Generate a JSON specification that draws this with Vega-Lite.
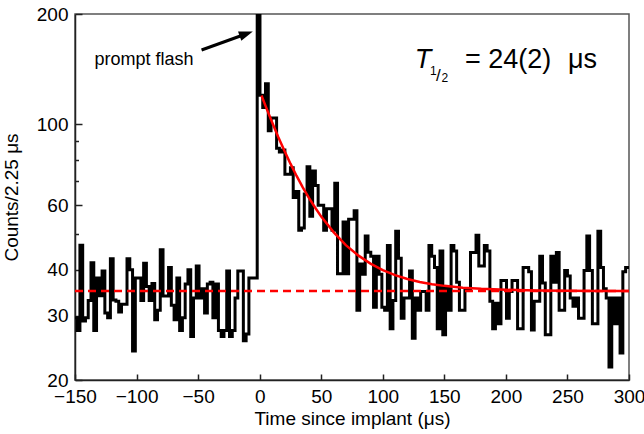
{
  "$schema": "https://vega.github.io/schema/vega-lite/v6.json",
  "width": 554,
  "height": 366,
  "autosize": {"type": "none"},
  "padding": {"left": 75, "top": 14, "right": 15, "bottom": 54},
  "background": "white",
  "config": {
    "view": {"stroke": "#555", "strokeWidth": 1.5},
    "font": "Liberation Sans",
    "axis": {
      "labelFont": "Liberation Sans",
      "titleFont": "Liberation Sans",
      "labelColor": "#000",
      "titleColor": "#000",
      "domainColor": "#222",
      "domainWidth": 1.5,
      "tickColor": "#222",
      "tickWidth": 1.5,
      "labelFontSize": 19,
      "titleFontSize": 19,
      "titleFontWeight": "normal",
      "grid": false,
      "labelFlush": false,
      "labelOverlap": false,
      "labelBound": false
    }
  },
  "datasets": {
    "hist": [
      {"t": -150.5, "c": 29.6}, {"t": -148.25, "c": 27.3}, {"t": -146, "c": 46.7}, {"t": -143.75, "c": 29}, {"t": -141.5, "c": 29.6},
      {"t": -139.25, "c": 33}, {"t": -137, "c": 41.8}, {"t": -134.75, "c": 27.3}, {"t": -132.5, "c": 38}, {"t": -130.25, "c": 34},
      {"t": -128, "c": 39.7}, {"t": -125.75, "c": 30.5}, {"t": -123.5, "c": 29.6}, {"t": -121.25, "c": 42.9}, {"t": -119, "c": 33.1},
      {"t": -116.75, "c": 32.8}, {"t": -114.5, "c": 30.7}, {"t": -112.25, "c": 32.2}, {"t": -110, "c": 32.2}, {"t": -107.75, "c": 42.9},
      {"t": -105.5, "c": 40}, {"t": -103.25, "c": 24}, {"t": -101, "c": 38}, {"t": -98.75, "c": 38}, {"t": -96.5, "c": 33},
      {"t": -94.25, "c": 41.7}, {"t": -92, "c": 36}, {"t": -89.75, "c": 33}, {"t": -87.5, "c": 36.7}, {"t": -85.25, "c": 29.2},
      {"t": -83, "c": 31}, {"t": -80.75, "c": 45.4}, {"t": -78.5, "c": 33.9}, {"t": -76.25, "c": 33.9}, {"t": -74, "c": 40.6},
      {"t": -71.75, "c": 32}, {"t": -69.5, "c": 29.2}, {"t": -67.25, "c": 38}, {"t": -65, "c": 27.3}, {"t": -62.75, "c": 29.6},
      {"t": -60.5, "c": 36.6}, {"t": -58.25, "c": 40}, {"t": -56, "c": 26.3}, {"t": -53.75, "c": 33.5}, {"t": -51.5, "c": 41},
      {"t": -49.25, "c": 33.5}, {"t": -47, "c": 35.5}, {"t": -44.75, "c": 30.5}, {"t": -42.5, "c": 36.6}, {"t": -40.25, "c": 37},
      {"t": -38, "c": 29.6}, {"t": -35.75, "c": 36.6}, {"t": -33.5, "c": 27.3}, {"t": -31.25, "c": 26.3}, {"t": -29, "c": 27.3},
      {"t": -26.75, "c": 39.7}, {"t": -24.5, "c": 26.3}, {"t": -22.25, "c": 27.3}, {"t": -20, "c": 33.5}, {"t": -17.75, "c": 39.7},
      {"t": -15.5, "c": 39.7}, {"t": -13.25, "c": 25.6}, {"t": -11, "c": 26.7}, {"t": -8.75, "c": 38}, {"t": -6.5, "c": 38},
      {"t": -4.25, "c": 38}, {"t": -2, "c": 260},
      {"t": 0.25, "c": 120}, {"t": 2.5, "c": 111}, {"t": 4.75, "c": 129}, {"t": 7, "c": 96}, {"t": 9.25, "c": 104},
      {"t": 11.5, "c": 104}, {"t": 13.75, "c": 86}, {"t": 16, "c": 84}, {"t": 18.25, "c": 85}, {"t": 20.5, "c": 73},
      {"t": 22.75, "c": 73}, {"t": 25, "c": 76}, {"t": 27.25, "c": 63}, {"t": 29.5, "c": 65.5}, {"t": 31.75, "c": 51.3},
      {"t": 34, "c": 52}, {"t": 36.25, "c": 64.5}, {"t": 38.5, "c": 76.5}, {"t": 40.75, "c": 56}, {"t": 43, "c": 74.5},
      {"t": 45.25, "c": 68}, {"t": 47.5, "c": 60}, {"t": 49.75, "c": 60}, {"t": 52, "c": 51.3}, {"t": 54.25, "c": 58.7},
      {"t": 56.5, "c": 58.7}, {"t": 58.75, "c": 51.3}, {"t": 61, "c": 69}, {"t": 63.25, "c": 39}, {"t": 65.5, "c": 39},
      {"t": 67.75, "c": 54}, {"t": 70, "c": 39}, {"t": 72.25, "c": 55}, {"t": 74.5, "c": 55}, {"t": 76.75, "c": 58},
      {"t": 79, "c": 31}, {"t": 81.25, "c": 41.5}, {"t": 83.5, "c": 38.9}, {"t": 85.75, "c": 49.5}, {"t": 88, "c": 44.7},
      {"t": 90.25, "c": 43.6}, {"t": 92.5, "c": 31.6}, {"t": 94.75, "c": 43.6}, {"t": 97, "c": 38.9}, {"t": 99.25, "c": 31.6},
      {"t": 101.5, "c": 31}, {"t": 103.75, "c": 46.6}, {"t": 106, "c": 27.6}, {"t": 108.25, "c": 33}, {"t": 110.5, "c": 51},
      {"t": 112.75, "c": 43}, {"t": 115, "c": 29.5}, {"t": 117.25, "c": 33.5}, {"t": 119.5, "c": 33.5}, {"t": 121.75, "c": 39.7},
      {"t": 124, "c": 26}, {"t": 126.25, "c": 33.5}, {"t": 128.5, "c": 31}, {"t": 130.75, "c": 34.9}, {"t": 133, "c": 34.9},
      {"t": 135.25, "c": 31}, {"t": 137.5, "c": 46.6}, {"t": 139.75, "c": 43.6}, {"t": 142, "c": 40.6}, {"t": 144.25, "c": 27.6},
      {"t": 146.5, "c": 45}, {"t": 148.75, "c": 26.6}, {"t": 151, "c": 36}, {"t": 153.25, "c": 31}, {"t": 155.5, "c": 46.6},
      {"t": 157.75, "c": 45}, {"t": 160, "c": 37}, {"t": 162.25, "c": 31}, {"t": 164.5, "c": 31}, {"t": 166.75, "c": 35.5},
      {"t": 169, "c": 35.5}, {"t": 171.25, "c": 44.6}, {"t": 173.5, "c": 44.6}, {"t": 175.75, "c": 49.7}, {"t": 178, "c": 41},
      {"t": 180.25, "c": 41}, {"t": 182.5, "c": 46.6}, {"t": 184.75, "c": 45}, {"t": 187, "c": 32.8}, {"t": 189.25, "c": 27.6},
      {"t": 191.5, "c": 32.4}, {"t": 193.75, "c": 28.5}, {"t": 196, "c": 37.4}, {"t": 198.25, "c": 37.4}, {"t": 200.5, "c": 29.5},
      {"t": 202.75, "c": 34.9}, {"t": 205, "c": 37.4}, {"t": 207.25, "c": 37.4}, {"t": 209.5, "c": 27.6}, {"t": 211.75, "c": 27.6},
      {"t": 214, "c": 40.6}, {"t": 216.25, "c": 40.6}, {"t": 218.5, "c": 39.5}, {"t": 220.75, "c": 27.4}, {"t": 223, "c": 32.8},
      {"t": 225.25, "c": 32.8}, {"t": 227.5, "c": 43.6}, {"t": 229.75, "c": 36.8}, {"t": 232, "c": 26.6}, {"t": 234.25, "c": 26.6},
      {"t": 236.5, "c": 43.6}, {"t": 238.75, "c": 37}, {"t": 241, "c": 44.6}, {"t": 243.25, "c": 31}, {"t": 245.5, "c": 31},
      {"t": 247.75, "c": 39.8}, {"t": 250, "c": 38.5}, {"t": 252.25, "c": 33.5}, {"t": 254.5, "c": 31.8}, {"t": 256.75, "c": 33.5},
      {"t": 259, "c": 29.5}, {"t": 261.25, "c": 29.5}, {"t": 263.5, "c": 39.8}, {"t": 265.75, "c": 49.5}, {"t": 268, "c": 39.8},
      {"t": 270.25, "c": 28.5}, {"t": 272.5, "c": 28.5}, {"t": 274.75, "c": 51}, {"t": 277, "c": 40.6}, {"t": 279.25, "c": 35.5},
      {"t": 281.5, "c": 33.5}, {"t": 283.75, "c": 21.7}, {"t": 286, "c": 33.5}, {"t": 288.25, "c": 28.5}, {"t": 290.5, "c": 33.5},
      {"t": 292.75, "c": 23.7}, {"t": 295, "c": 39.5}, {"t": 297.25, "c": 40.6}, {"t": 299.5, "c": 40.6}, {"t": 301.75, "c": 40.6}
    ],
    "fit": [
      {"t": 1.5, "c": 119.8}, {"t": 5, "c": 111.7}, {"t": 10, "c": 101.4}, {"t": 15, "c": 92.4}, {"t": 20, "c": 84.7},
      {"t": 25, "c": 78.0}, {"t": 30, "c": 72.2}, {"t": 35, "c": 67.2}, {"t": 40, "c": 62.9}, {"t": 45, "c": 59.2},
      {"t": 50, "c": 55.9}, {"t": 60, "c": 50.7}, {"t": 70, "c": 46.7}, {"t": 80, "c": 43.8}, {"t": 90, "c": 41.6},
      {"t": 100, "c": 39.9}, {"t": 110, "c": 38.7}, {"t": 120, "c": 37.77}, {"t": 130, "c": 37.07}, {"t": 140, "c": 36.55},
      {"t": 150, "c": 36.16}, {"t": 165, "c": 35.75}, {"t": 180, "c": 35.49}, {"t": 200, "c": 35.27}, {"t": 225, "c": 35.13},
      {"t": 250, "c": 35.06}, {"t": 275, "c": 35.03}, {"t": 300, "c": 35.01}
    ]
  },
  "layer": [
    {
      "data": {"name": "hist"},
      "mark": {"type": "line", "interpolate": "step-after", "color": "#000", "strokeWidth": 3, "clip": true},
      "encoding": {
        "x": {
          "field": "t", "type": "quantitative",
          "scale": {"domain": [-150, 300], "nice": false, "zero": false},
          "axis": {
            "title": "Time since implant (μs)",
            "values": [-150, -100, -50, 0, 50, 100, 150, 200, 250, 300],
            "tickSize": -6,
            "labelPadding": 13,
            "titlePadding": 3
          }
        },
        "y": {
          "field": "c", "type": "quantitative",
          "scale": {"type": "log", "domain": [20, 200], "nice": false},
          "axis": {
            "title": "Counts/2.25 μs",
            "values": [20, 30, 40, 50, 60, 70, 80, 90, 100, 200],
            "labelExpr": "indexof([50,70,80,90], datum.value) >= 0 ? '' : format(datum.value, 'd')",
            "tickSize": {"condition": {"test": "indexof([50,70,80,90], datum.value) >= 0", "value": -3.5}, "value": -7},
            "labelPadding": 14,
            "titlePadding": 15
          }
        }
      }
    },
    {
      "data": {"values": [{"c": 35}]},
      "mark": {"type": "rule", "color": "#ff0000", "strokeWidth": 2.5, "strokeDash": [8, 5]},
      "encoding": {"y": {"field": "c", "type": "quantitative"}}
    },
    {
      "data": {"name": "fit"},
      "mark": {"type": "line", "color": "#ff0000", "strokeWidth": 2.5, "clip": true},
      "encoding": {
        "x": {"field": "t", "type": "quantitative"},
        "y": {"field": "c", "type": "quantitative"}
      }
    },
    {
      "data": {"values": [{"t": -47.2, "c": 159.5, "t2": -14, "c2": 175}]},
      "mark": {"type": "rule", "color": "#000", "strokeWidth": 3},
      "encoding": {
        "x": {"field": "t", "type": "quantitative"},
        "y": {"field": "c", "type": "quantitative"},
        "x2": {"field": "t2"},
        "y2": {"field": "c2"}
      }
    },
    {
      "data": {"values": [{"t": -10.9, "c": 176.6}]},
      "mark": {"type": "point", "shape": "M0,-1L0.7,1L-0.7,1Z", "filled": true, "color": "#000", "opacity": 1, "size": 196, "angle": 70},
      "encoding": {
        "x": {"field": "t", "type": "quantitative"},
        "y": {"field": "c", "type": "quantitative"}
      }
    },
    {
      "data": {"values": [{"t": -94, "c": 150, "label": "prompt flash"}]},
      "mark": {"type": "text", "font": "Liberation Sans", "fontSize": 18, "align": "center", "baseline": "middle", "color": "#000"},
      "encoding": {
        "x": {"field": "t", "type": "quantitative"},
        "y": {"field": "c", "type": "quantitative"},
        "text": {"field": "label"}
      }
    },
    {
      "data": {"values": [{"t": 126, "c": 142.3, "label": "T"}]},
      "mark": {"type": "text", "font": "Liberation Sans", "fontSize": 27, "fontStyle": "italic", "align": "left", "baseline": "alphabetic", "color": "#000"},
      "encoding": {
        "x": {"field": "t", "type": "quantitative"},
        "y": {"field": "c", "type": "quantitative"},
        "text": {"field": "label"}
      }
    },
    {
      "data": {"values": [{"t": 138.3, "c": 136.3, "label": "1"}, {"t": 147.6, "c": 130.3, "label": "2"}]},
      "mark": {"type": "text", "font": "Liberation Sans", "fontSize": 12, "align": "left", "baseline": "alphabetic", "color": "#000"},
      "encoding": {
        "x": {"field": "t", "type": "quantitative"},
        "y": {"field": "c", "type": "quantitative"},
        "text": {"field": "label"}
      }
    },
    {
      "data": {"values": [{"t": 143.2, "c": 131.1, "label": "/"}]},
      "mark": {"type": "text", "font": "Liberation Sans", "fontSize": 17, "align": "left", "baseline": "alphabetic", "color": "#000"},
      "encoding": {
        "x": {"field": "t", "type": "quantitative"},
        "y": {"field": "c", "type": "quantitative"},
        "text": {"field": "label"}
      }
    },
    {
      "data": {"values": [{"t": 166.8, "c": 142.3, "label": "= 24(2)"}, {"t": 250.4, "c": 142.3, "label": "μs"}]},
      "mark": {"type": "text", "font": "Liberation Sans", "fontSize": 27, "align": "left", "baseline": "alphabetic", "color": "#000"},
      "encoding": {
        "x": {"field": "t", "type": "quantitative"},
        "y": {"field": "c", "type": "quantitative"},
        "text": {"field": "label"}
      }
    }
  ]
}
